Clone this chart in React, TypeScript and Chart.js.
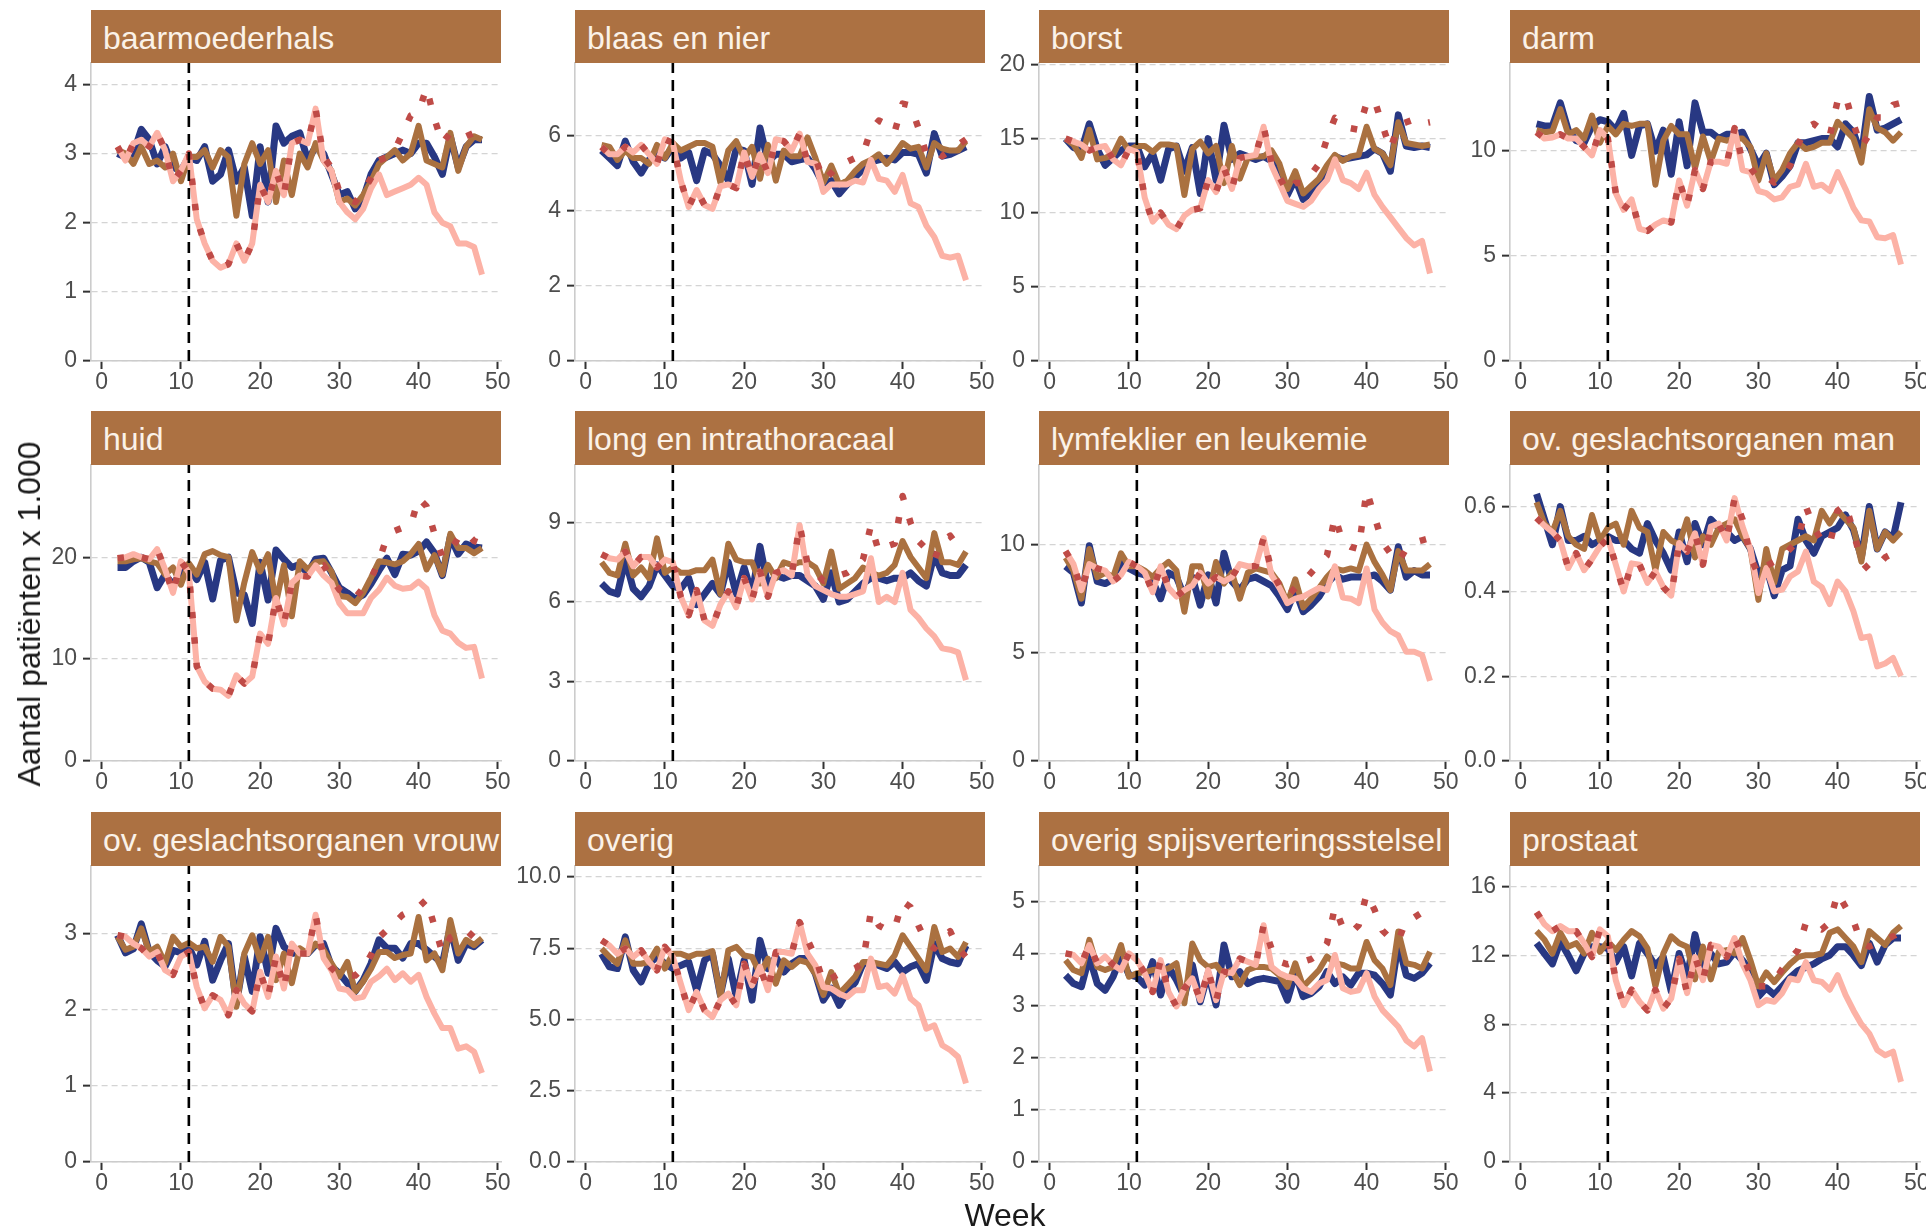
import React, { useEffect, useRef } from "react";
import { Chart, registerables } from "chart.js";

Chart.register(...registerables);
Chart.defaults.font.family = '"Liberation Sans", Arial, Helvetica, sans-serif';

// ---------- categories ----------
const WEEKS = [2,3,4,5,6,7,8,9,10,11,12,13,14,15,16,17,18,19,20,21,22,23,24,25,26,27,28,29,30,31,32,33,34,35,36,37,38,39,40,41,42,43,44,45,46,47,48];
const VLINE_WEEK = 11;
const X_TICKS = [0, 10, 20, 30, 40, 50];

const TITLES = [
  "baarmoederhals", "blaas en nier", "borst", "darm",
  "huid", "long en intrathoracaal", "lymfeklier en leukemie", "ov. geslachtsorganen man",
  "ov. geslachtsorganen vrouw", "overig", "overig spijsverteringsstelsel", "prostaat",
];

// y-axis tick labels per panel
const Y_TICKS = [
  [0, 1, 2, 3, 4], [0, 2, 4, 6], [0, 5, 10, 15, 20], [0, 5, 10],
  [0, 10, 20], [0, 3, 6, 9], [0, 5, 10], [0, 0.2, 0.4, 0.6],
  [0, 1, 2, 3], [0, 2.5, 5, 7.5, 10], [0, 1, 2, 3, 4, 5], [0, 4, 8, 12, 16],
];
const Y_DECIMALS = [0, 0, 0, 0, 0, 0, 0, 1, 0, 1, 0, 0];
const Y_MAX = [4.31, 7.93, 20.1, 14.2, 29.05, 11.17, 13.68, 0.698, 3.89, 10.39, 5.69, 17.18];

// ---------- series (a = donkerblauw, b = bruin, c = roze, d = gestippeld) ----------
const baarmoederhals_a = [3.0,2.95,3.0,3.35,3.2,2.85,3.1,2.8,2.75,2.95,2.9,3.1,2.6,2.7,3.05,2.6,2.8,2.1,3.1,2.3,3.4,3.15,3.25,3.3,2.9,3.1,3.0,2.7,2.4,2.45,2.2,2.35,2.7,2.9,2.95,3.0,3.05,3.0,3.15,3.15,2.95,2.7,3.25,2.8,3.1,3.2,3.2];
const baarmoederhals_b = [3.05,3.0,2.85,3.1,2.85,2.9,2.8,3.0,2.6,2.95,2.95,3.05,2.8,3.05,2.95,2.1,2.85,3.15,2.85,3.05,2.3,2.9,2.4,3.0,2.8,3.15,2.9,2.75,2.3,2.35,2.25,2.4,2.6,2.85,2.95,3.05,2.9,3.0,3.4,2.9,2.85,2.8,3.3,2.75,3.1,3.25,3.2];
const baarmoederhals_c = [3.1,2.9,3.15,3.2,3.1,3.3,3.05,2.6,2.75,3.0,2.05,1.7,1.45,1.35,1.4,1.7,1.45,1.7,2.55,2.3,2.75,2.4,3.15,3.2,3.15,3.65,2.9,2.75,2.3,2.15,2.05,2.2,2.5,2.7,2.4,2.45,2.5,2.55,2.65,2.55,2.15,2.0,1.95,1.7,1.7,1.65,1.25];
const baarmoederhals_d = [3.1,2.9,3.15,3.2,3.1,3.3,3.05,2.6,2.75,3.0,2.05,1.7,1.45,1.35,1.4,1.7,1.45,1.7,2.55,2.3,2.75,2.4,3.15,3.2,3.15,3.65,2.95,2.8,2.45,2.35,2.3,2.45,2.65,2.9,2.95,3.05,3.3,3.55,3.6,3.95,3.5,3.15,3.3,3.3,3.25,3.3,3.4];

const blaas_a = [5.6,5.4,5.2,5.85,5.3,5.0,5.35,5.5,5.4,5.7,5.4,5.55,4.8,5.6,5.5,5.2,4.8,5.65,5.6,4.7,6.2,5.3,5.5,5.5,5.3,5.35,5.4,5.1,4.7,4.8,4.45,4.7,4.9,5.1,5.3,5.35,5.4,5.35,5.55,5.55,5.5,5.0,6.05,5.45,5.5,5.6,5.7];
const blaas_b = [5.75,5.7,5.35,5.6,5.4,5.4,5.25,5.75,5.4,5.8,5.6,5.7,5.8,5.8,5.7,4.75,5.6,5.85,5.4,5.7,4.85,5.75,4.8,5.6,5.45,5.45,5.95,5.4,4.75,5.2,4.7,4.8,5.05,5.25,5.35,5.5,5.25,5.5,5.8,5.65,5.7,5.15,5.8,5.65,5.6,5.6,5.85];
const blaas_c = [5.7,5.5,5.5,5.7,5.55,5.75,5.5,5.25,5.9,5.8,4.8,4.1,4.55,4.15,4.05,4.65,4.7,4.6,5.55,4.9,5.5,5.0,5.9,5.85,5.6,6.05,5.3,5.25,4.5,4.7,4.7,4.7,4.8,4.75,5.35,4.85,4.8,4.5,4.95,4.2,4.1,3.6,3.3,2.8,2.75,2.8,2.15];
const blaas_d = [5.7,5.5,5.5,5.7,5.55,5.75,5.5,5.25,5.9,5.8,4.8,4.1,4.55,4.15,4.05,4.65,4.7,4.6,5.55,4.9,5.5,5.0,5.9,5.85,5.6,6.05,5.3,5.4,4.8,5.0,5.25,5.3,5.4,5.5,6.15,6.4,6.3,6.1,6.85,6.8,6.2,5.5,5.6,5.45,5.6,5.75,5.9];

const borst_a = [15.0,14.4,14.2,16.0,14.3,13.2,13.7,14.2,14.5,14.5,13.1,14.0,12.2,14.3,14.5,12.8,14.4,11.3,15.0,12.2,15.9,13.6,14.0,13.8,13.6,13.8,13.5,12.3,11.2,12.3,10.9,11.4,12.0,12.5,13.8,13.6,13.7,13.8,13.9,14.3,14.0,12.8,16.6,14.5,14.4,14.5,14.4];
const borst_b = [15.0,14.6,13.7,15.6,13.6,13.7,13.9,15.0,14.2,14.5,14.5,14.1,14.6,14.6,14.5,11.2,14.3,14.8,14.0,14.5,12.0,14.5,12.3,13.7,13.8,13.8,14.2,13.3,11.6,12.8,11.3,11.8,12.3,13.2,13.9,13.5,13.8,13.9,15.8,14.3,14.0,13.2,16.1,14.7,14.6,14.5,14.6];
const borst_c = [15.0,14.8,14.6,14.2,14.4,14.5,13.6,13.2,14.3,14.1,11.0,9.4,10.0,9.2,8.9,9.8,10.2,10.3,12.2,11.4,13.0,11.6,13.7,13.8,13.9,15.8,13.2,12.0,10.8,10.6,10.4,10.8,11.6,12.2,13.6,12.2,12.0,11.6,12.7,11.2,10.4,9.7,9.0,8.3,7.8,8.1,5.9];
const borst_d = [15.0,14.8,14.6,14.2,14.4,14.5,13.6,13.2,14.3,14.1,11.0,9.4,10.0,9.2,8.9,9.8,10.2,10.3,12.2,11.4,13.0,11.6,13.7,13.8,13.9,15.8,13.4,12.4,11.4,12.0,12.0,12.6,13.3,15.0,16.4,16.0,15.7,15.6,17.4,17.6,15.9,14.3,15.9,16.1,16.3,16.0,16.1];

const darm_a = [11.3,11.2,11.2,12.3,11.0,10.5,10.4,11.2,11.5,11.4,11.0,11.8,9.8,11.2,11.3,10.0,11.0,8.9,11.4,9.3,12.3,10.9,10.9,10.6,10.8,10.8,10.9,10.1,9.3,9.9,8.4,8.8,9.3,10.4,10.4,10.5,10.6,10.6,10.2,11.3,10.9,9.8,12.6,11.0,11.1,11.3,11.5];
const darm_b = [11.0,10.9,10.95,12.0,10.8,11.0,10.6,11.7,10.4,11.2,10.8,11.3,11.2,11.3,11.3,8.4,10.5,11.2,10.8,10.8,9.2,10.7,9.5,10.6,10.5,10.6,10.6,10.2,8.6,9.9,8.6,9.1,9.9,10.4,10.1,10.2,10.4,10.4,11.4,11.0,10.6,9.45,12.0,11.1,10.9,10.5,10.9];
const darm_c = [10.9,10.6,10.65,10.8,10.6,10.6,10.2,9.8,11.0,10.6,8.0,7.2,7.7,6.3,6.2,6.5,6.7,6.6,8.6,7.4,9.1,8.2,9.5,9.5,9.4,11.1,9.1,9.0,8.1,8.0,7.7,7.8,8.3,8.4,9.4,8.3,8.4,8.1,9.0,8.2,7.3,6.7,6.65,5.9,5.85,6.0,4.6];
const darm_d = [10.9,10.6,10.65,10.8,10.6,10.6,10.2,9.8,11.0,10.6,8.0,7.2,7.7,6.3,6.2,6.5,6.7,6.6,8.6,7.4,9.1,8.2,9.5,9.5,9.4,11.1,9.5,9.2,8.7,8.8,8.5,8.7,9.3,10.3,11.1,11.3,11.0,10.7,12.4,12.65,11.3,10.2,10.8,11.6,11.6,12.2,12.3];

const huid_a = [19.0,19.0,19.6,20.0,19.5,17.0,18.3,17.3,18.5,19.0,17.8,19.5,15.9,19.7,20.0,16.5,16.3,13.5,19.5,15.8,20.7,19.8,19.0,19.3,18.4,19.8,19.9,18.5,17.0,16.5,15.9,16.3,17.4,18.7,19.9,18.3,20.3,20.2,20.6,21.5,20.4,18.2,22.0,20.3,21.3,21.0,20.9];
const huid_b = [19.6,19.6,19.8,19.9,19.6,19.4,18.3,19.0,17.3,19.4,18.3,20.3,20.6,20.2,20.0,13.8,17.5,20.5,18.6,20.3,15.5,19.2,14.2,19.6,18.8,19.5,19.6,18.6,16.2,16.1,15.5,16.5,18.0,19.6,19.5,19.3,19.6,20.3,21.3,18.8,20.2,18.3,22.3,20.9,20.9,20.4,20.9];
const huid_c = [19.9,20.0,20.3,20.0,19.8,20.8,18.8,16.5,19.6,18.5,9.3,7.8,7.1,7.0,6.4,8.4,7.6,8.3,12.5,11.5,16.0,13.4,17.5,18.2,18.1,19.2,18.2,17.5,15.5,14.5,14.5,14.5,16.0,16.8,18.0,17.2,16.9,17.0,17.6,16.9,14.3,12.8,12.5,11.6,11.1,11.2,8.1];
const huid_d = [19.9,20.0,20.3,20.0,19.8,20.8,18.8,16.5,19.6,18.5,9.3,7.8,7.1,7.0,6.4,8.4,7.6,8.3,12.5,11.5,16.0,13.4,17.5,18.2,18.1,19.2,19.2,18.0,16.8,16.4,16.0,17.0,17.9,19.6,22.0,22.6,22.9,23.1,25.8,25.0,22.3,20.0,20.6,21.9,22.4,21.6,21.3];

const long_a = [6.7,6.4,6.3,7.6,6.5,6.2,6.6,7.4,7.0,6.6,6.5,6.9,5.9,6.3,6.7,6.3,7.5,6.3,7.3,6.3,8.1,6.6,7.0,6.9,7.0,7.0,6.8,6.6,6.1,7.1,6.0,6.1,6.4,6.7,6.9,6.9,6.8,6.9,6.9,7.1,6.8,6.6,7.8,7.1,7.0,7.0,7.4];
const long_b = [7.5,7.1,7.0,8.2,7.0,7.3,6.9,8.4,7.1,7.3,7.1,7.1,7.2,7.2,7.6,6.3,8.2,7.6,7.5,7.5,6.7,7.4,6.9,7.5,7.4,7.5,7.5,7.3,6.7,7.9,6.5,6.7,6.9,7.3,7.1,7.0,7.1,7.4,8.3,7.7,7.3,6.9,8.6,7.5,7.5,7.4,7.9];
const long_c = [7.8,7.65,7.6,7.9,7.35,7.7,7.7,7.3,7.6,7.5,6.2,5.5,6.45,5.3,5.1,5.9,6.4,5.8,6.9,6.1,7.15,6.2,7.1,7.2,7.0,8.9,7.0,6.6,6.45,6.3,6.2,6.2,6.3,6.4,7.65,6.0,6.2,6.0,7.1,5.7,5.4,5.0,4.7,4.25,4.2,4.1,3.05];
const long_d = [7.8,7.65,7.6,7.9,7.35,7.7,7.7,7.3,7.6,7.5,6.2,5.5,6.45,5.3,5.1,5.9,6.4,5.8,6.9,6.1,7.15,6.2,7.1,7.2,7.0,8.9,7.45,7.1,6.8,6.9,7.0,7.1,7.3,7.6,8.9,7.9,8.1,8.2,10.0,9.0,8.3,8.0,7.6,8.3,8.5,8.1,8.0];

const lymf_a = [9.0,8.7,7.3,9.95,8.3,8.2,8.4,9.2,8.9,8.7,8.6,8.3,7.5,8.7,8.5,7.6,8.5,7.2,8.6,7.3,9.6,8.3,7.9,8.4,8.5,8.3,8.1,7.6,7.0,7.9,6.9,7.2,7.6,8.2,8.6,8.4,8.5,8.5,8.5,8.6,8.3,7.9,9.9,8.5,8.8,8.6,8.6];
const lymf_b = [9.4,8.8,7.5,9.8,8.5,8.7,8.5,9.6,9.0,9.0,8.8,8.5,8.9,9.2,8.8,6.9,9.0,9.0,7.6,9.2,8.2,8.7,7.5,8.7,8.9,8.8,8.7,8.2,7.3,8.4,7.1,7.5,8.0,8.5,8.9,8.8,8.9,8.8,10.0,9.2,8.6,7.9,9.7,8.8,8.8,8.8,9.1];
const lymf_c = [9.7,9.1,7.9,9.1,8.9,8.8,8.3,8.6,9.2,9.0,8.7,7.8,9.0,8.0,7.6,7.9,8.1,8.7,8.2,8.5,8.3,8.5,9.1,9.0,9.0,10.3,8.6,8.0,7.3,7.5,7.6,7.8,8.0,7.9,9.0,7.55,7.5,7.3,8.9,7.0,6.4,6.0,5.8,5.05,5.05,4.9,3.7];
const lymf_d = [9.7,9.1,7.9,9.1,8.9,8.8,8.3,8.6,9.2,9.0,8.7,7.8,9.0,8.0,7.6,7.9,8.1,8.7,8.2,8.5,8.3,8.5,9.1,9.0,9.0,10.3,8.8,8.1,7.6,8.0,8.3,8.7,9.1,9.5,11.3,10.1,9.9,9.8,12.5,11.3,10.1,9.6,9.2,9.8,10.1,10.2,10.3];

const man_a = [0.63,0.57,0.51,0.60,0.52,0.52,0.53,0.51,0.52,0.53,0.52,0.52,0.50,0.49,0.56,0.52,0.49,0.45,0.54,0.47,0.56,0.51,0.57,0.55,0.54,0.52,0.53,0.50,0.44,0.46,0.39,0.45,0.46,0.57,0.52,0.49,0.53,0.54,0.55,0.58,0.545,0.48,0.60,0.50,0.54,0.525,0.61];
const man_b = [0.61,0.56,0.54,0.59,0.53,0.51,0.50,0.58,0.52,0.55,0.56,0.51,0.59,0.55,0.54,0.45,0.54,0.52,0.51,0.57,0.48,0.53,0.51,0.55,0.56,0.57,0.53,0.50,0.38,0.50,0.42,0.50,0.51,0.52,0.53,0.52,0.59,0.56,0.59,0.57,0.55,0.47,0.59,0.50,0.54,0.52,0.54];
const man_c = [0.573,0.555,0.54,0.52,0.455,0.49,0.45,0.476,0.506,0.525,0.463,0.40,0.466,0.463,0.42,0.447,0.41,0.39,0.514,0.494,0.537,0.463,0.553,0.56,0.52,0.62,0.553,0.50,0.396,0.455,0.40,0.404,0.435,0.447,0.494,0.423,0.41,0.37,0.423,0.40,0.353,0.29,0.294,0.223,0.23,0.243,0.20];
const man_d = [0.573,0.555,0.54,0.52,0.455,0.49,0.45,0.476,0.506,0.525,0.463,0.40,0.466,0.463,0.42,0.447,0.41,0.39,0.514,0.494,0.537,0.463,0.553,0.56,0.52,0.62,0.57,0.48,0.44,0.46,0.47,0.48,0.50,0.52,0.60,0.55,0.52,0.51,0.59,0.605,0.54,0.47,0.45,0.46,0.48,0.49,0.48];

const vrouw_a = [2.98,2.75,2.8,3.13,2.76,2.65,2.57,2.78,2.75,2.83,2.59,2.9,2.39,2.65,2.87,2.08,2.7,2.24,2.96,2.48,3.07,2.83,2.74,2.76,2.74,2.85,2.87,2.57,2.48,2.35,2.24,2.39,2.61,2.92,2.81,2.81,2.68,2.87,2.87,2.79,2.7,2.61,3.09,2.65,2.87,2.83,2.92];
const vrouw_b = [2.96,2.79,2.83,3.07,2.76,2.83,2.61,2.96,2.83,2.88,2.81,2.83,2.63,2.96,2.83,2.04,2.74,2.98,2.65,2.96,2.39,2.74,2.35,2.81,2.74,2.87,2.79,2.61,2.44,2.63,2.24,2.37,2.54,2.76,2.76,2.68,2.72,2.74,3.22,2.65,2.74,2.52,3.18,2.74,2.92,2.85,2.94];
const vrouw_c = [2.98,2.96,2.87,2.81,2.7,2.76,2.52,2.46,2.7,2.76,2.3,2.02,2.19,2.13,1.93,2.26,2.08,1.98,2.5,2.17,2.7,2.28,2.87,2.74,2.74,3.25,2.68,2.52,2.28,2.26,2.15,2.17,2.37,2.44,2.54,2.39,2.48,2.37,2.46,2.17,1.95,1.76,1.76,1.49,1.52,1.45,1.17];
const vrouw_d = [2.98,2.96,2.87,2.81,2.7,2.76,2.52,2.46,2.7,2.76,2.3,2.02,2.19,2.13,1.93,2.26,2.08,1.98,2.5,2.17,2.7,2.28,2.87,2.74,2.74,3.25,2.68,2.55,2.45,2.45,2.45,2.55,2.72,2.95,3.05,3.15,3.25,3.3,3.35,3.45,3.1,2.75,2.95,3.0,3.05,2.95,3.05];

const overig_a = [7.31,6.85,6.79,7.9,6.73,6.32,6.96,7.2,6.96,6.79,6.9,7.02,6.03,7.08,7.3,5.86,7.14,5.8,7.08,5.68,7.78,6.79,7.2,6.67,6.96,7.14,7.14,6.6,5.68,6.1,5.5,5.97,6.3,6.96,6.96,6.9,6.79,7.02,6.67,6.85,6.96,6.38,7.66,7.14,7.02,6.96,7.6];
const overig_b = [7.49,7.2,6.96,7.78,6.96,6.96,7.02,7.49,6.79,7.31,7.31,7.2,7.31,7.31,7.4,5.8,7.43,7.55,7.25,7.2,6.6,7.14,6.26,7.08,6.85,7.08,7.0,6.6,5.86,6.67,5.91,6.2,6.5,7.02,7.02,6.96,6.9,7.25,7.96,7.55,7.14,6.73,8.25,7.37,7.49,7.2,7.72];
const overig_c = [7.78,7.6,7.31,7.49,7.2,7.43,7.02,6.73,7.55,7.2,6.26,5.33,5.97,5.33,5.09,5.68,5.91,5.5,6.96,6.2,6.85,6.03,7.37,7.37,7.31,8.42,7.31,6.9,6.14,6.09,5.91,5.79,6.03,6.03,7.14,6.14,6.2,5.91,6.55,5.74,5.5,4.68,4.8,4.1,3.93,3.69,2.76];
const overig_d = [7.78,7.6,7.31,7.49,7.2,7.43,7.02,6.73,7.55,7.2,6.26,5.33,5.97,5.33,5.09,5.68,5.91,5.5,6.96,6.2,6.85,6.03,7.37,7.37,7.31,8.42,7.8,7.2,6.3,6.45,6.6,6.7,6.8,7.0,8.8,8.3,8.15,8.2,9.15,8.95,8.3,7.7,7.5,7.9,8.1,7.5,7.2];

const spijs_a = [3.59,3.43,3.37,3.95,3.43,3.3,3.56,3.95,3.6,3.56,3.4,3.85,3.21,3.75,3.5,3.18,3.79,3.08,3.63,3.02,4.17,3.56,3.66,3.43,3.5,3.53,3.5,3.47,3.11,3.63,3.18,3.24,3.37,3.66,3.43,3.56,3.4,3.63,3.63,3.59,3.43,3.21,4.2,3.59,3.53,3.63,3.82];
const spijs_b = [3.88,3.69,3.63,4.27,3.75,3.69,3.75,4.17,3.56,3.63,3.65,3.69,3.7,3.72,3.82,3.05,4.2,3.88,3.75,3.79,3.59,3.69,3.4,3.69,3.75,3.75,3.72,3.59,3.37,3.82,3.37,3.53,3.69,3.95,3.82,3.79,3.72,3.72,4.23,3.88,3.72,3.4,4.43,3.82,3.79,3.72,4.04];
const spijs_c = [4.01,3.98,3.82,4.17,3.82,3.95,3.79,3.69,4.01,3.88,3.63,3.27,3.88,3.27,2.99,3.34,3.53,3.11,3.69,3.11,3.66,3.63,3.91,3.85,3.79,4.55,3.75,3.63,3.56,3.53,3.34,3.27,3.43,3.5,3.98,3.34,3.27,3.3,3.63,3.18,2.92,2.76,2.6,2.34,2.22,2.38,1.74];
const spijs_d = [4.01,3.98,3.82,4.17,3.82,3.95,3.79,3.69,4.01,3.88,3.63,3.27,3.88,3.27,2.99,3.34,3.53,3.11,3.69,3.11,3.66,3.63,3.91,3.85,3.79,4.55,4.1,3.85,3.8,3.85,3.85,3.9,4.0,4.2,4.9,4.5,4.4,4.55,5.15,4.85,4.45,4.3,4.25,4.65,4.7,4.8,4.9];

const prostaat_a = [12.7,12.1,11.5,12.8,12.0,11.1,12.1,12.5,12.5,12.4,11.6,12.5,10.8,12.7,12.1,11.4,11.9,9.9,12.1,10.7,13.2,11.3,12.1,11.5,11.6,12.2,11.7,11.1,9.6,10.1,9.7,10.2,10.7,11.1,11.3,11.5,11.8,12.0,12.5,12.5,12.0,11.4,12.7,11.6,12.6,13.0,13.0];
const prostaat_b = [13.4,12.9,12.1,13.3,12.5,12.7,12.1,13.3,12.2,12.8,12.3,12.9,13.4,13.1,12.4,10.2,12.1,13.1,12.7,12.5,10.6,12.5,10.6,12.2,12.3,12.1,13.0,11.7,10.2,11.0,10.45,11.0,11.5,11.9,12.0,12.0,12.1,13.3,13.5,13.0,12.5,11.6,13.4,13.0,12.6,13.3,13.7];
const prostaat_c = [14.5,13.8,13.4,13.7,13.4,13.4,12.7,11.9,13.5,13.1,10.55,9.1,10.0,9.3,8.8,10.0,8.9,9.5,11.8,9.8,11.9,10.55,12.6,12.5,11.9,13.0,11.5,10.55,9.1,9.4,9.3,9.8,10.65,10.55,11.6,10.55,10.45,10.0,10.85,9.7,8.8,8.0,7.45,6.5,6.2,6.4,4.65];
const prostaat_d = [14.5,13.8,13.4,13.7,13.4,13.4,12.7,11.9,13.5,13.1,10.55,9.1,10.0,9.3,8.8,10.0,8.9,9.5,11.8,9.8,11.9,10.55,12.6,12.5,11.9,13.0,12.0,10.9,10.2,10.2,10.5,11.2,11.8,12.3,13.9,13.7,13.5,13.9,15.6,14.8,14.0,12.7,12.5,12.7,12.9,13.1,12.1];

const SERIES = [
  [baarmoederhals_a, baarmoederhals_b, baarmoederhals_c, baarmoederhals_d],
  [blaas_a, blaas_b, blaas_c, blaas_d],
  [borst_a, borst_b, borst_c, borst_d],
  [darm_a, darm_b, darm_c, darm_d],
  [huid_a, huid_b, huid_c, huid_d],
  [long_a, long_b, long_c, long_d],
  [lymf_a, lymf_b, lymf_c, lymf_d],
  [man_a, man_b, man_c, man_d],
  [vrouw_a, vrouw_b, vrouw_c, vrouw_d],
  [overig_a, overig_b, overig_c, overig_d],
  [spijs_a, spijs_b, spijs_c, spijs_d],
  [prostaat_a, prostaat_b, prostaat_c, prostaat_d],
];

// ---------- styling / layout ----------
const NAVY = "#283883";
const BROWN = "#aa7140";
const PINK = "#fcb2a6";
const DOTRED = "#bf4b47";
const STRIP_BG = "#ac7142";
const STRIP_FG = "#fbf2e8";
const TICK_TEXT = "#4d4d4d";

const COL_LEFT = [91, 575, 1039, 1510];
const PLOT_W = 410;
const ROW_STRIP_TOP = [10, 411, 812];
const ROW_PLOT_TOP = [63, 465, 866];
const ROW_PLOT_BOTTOM = [361, 761, 1162];
const YAXIS_W = 70;
const XAXIS_H = 44;
const RIGHT_PAD = 24;
const FONT = '"Liberation Sans", Arial, Helvetica, sans-serif';
const STRIP_FONT = 32;
const TITLE_FONT = 32;

function toPoints(values: number[]) {
  return WEEKS.map((w, i) => ({ x: w, y: values[i] }));
}

function Panel({ idx }: { idx: number }) {
  const ref = useRef<HTMLCanvasElement | null>(null);
  const col = idx % 4;
  const row = Math.floor(idx / 4);
  const left = COL_LEFT[col] - YAXIS_W;
  const top = ROW_STRIP_TOP[row];
  const padTop = ROW_PLOT_TOP[row] - top;
  const height = ROW_PLOT_BOTTOM[row] - top + XAXIS_H;
  const width = YAXIS_W + PLOT_W + RIGHT_PAD;

  useEffect(() => {
    if (!ref.current) return;
    const [a, b, c, d] = SERIES[idx];
    const yMax = Y_MAX[idx];
    const dec = Y_DECIMALS[idx];
    const yTicks = Y_TICKS[idx];
    const chart = new Chart(ref.current, {
      type: "line",
      data: {
        datasets: [
          { data: [{ x: VLINE_WEEK, y: 0 }, { x: VLINE_WEEK, y: yMax }], borderColor: "#000000", borderWidth: 2.6, borderDash: [11, 7], order: 0 },
          { data: toPoints(d), borderColor: DOTRED, borderWidth: 6.5, borderDash: [6.5, 19], order: 1 },
          { data: toPoints(c), borderColor: PINK, borderWidth: 6, order: 2 },
          { data: toPoints(b), borderColor: BROWN, borderWidth: 6, order: 3 },
          { data: toPoints(a), borderColor: NAVY, borderWidth: 7, order: 4 },
        ],
      },
      options: {
        animation: false,
        responsive: false,
        maintainAspectRatio: false,
        devicePixelRatio: 1,
        events: [],
        parsing: false as any,
        plugins: { legend: { display: false }, tooltip: { enabled: false }, title: { display: false } },
        elements: {
          point: { radius: 0, hoverRadius: 0 },
          line: { tension: 0, borderJoinStyle: "round", borderCapStyle: "butt", fill: false },
        },
        layout: { padding: { top: padTop, right: RIGHT_PAD, left: 0, bottom: 0 } },
        scales: {
          x: {
            type: "linear",
            min: -1.35,
            max: 50.4,
            afterBuildTicks: (s: any) => { s.ticks = X_TICKS.map((v) => ({ value: v })); },
            afterFit: (s: any) => { s.height = XAXIS_H; s.paddingLeft = 0; s.paddingRight = 0; },
            ticks: { color: TICK_TEXT, font: { family: FONT, size: 23 }, padding: 0, maxRotation: 0, minRotation: 0, autoSkip: false },
            grid: { drawOnChartArea: false, drawTicks: true, tickLength: 8, tickColor: "#333333", tickWidth: 2, tickBorderDash: [] },
            border: { display: true, color: "#cccccc", width: 1.6 },
          },
          y: {
            type: "linear",
            min: 0,
            max: yMax,
            afterBuildTicks: (s: any) => { s.ticks = yTicks.map((v) => ({ value: v })); },
            afterFit: (s: any) => { s.width = YAXIS_W; s.paddingTop = 0; s.paddingBottom = 0; },
            ticks: { color: TICK_TEXT, font: { family: FONT, size: 23 }, padding: 6, callback: (v: any) => Number(v).toFixed(dec) },
            grid: { drawOnChartArea: true, color: "#d4d4d4", lineWidth: 1.3, drawTicks: true, tickLength: 8, tickColor: "#333333", tickWidth: 2, tickBorderDash: [] },
            border: { display: true, color: "#cccccc", width: 1.6, dash: [6, 4] },
          },
        },
      } as any,
    });
    return () => chart.destroy();
  }, [idx]);

  return (
    <>
      <canvas ref={ref} width={width} height={height} style={{ position: "absolute", left, top, width, height, display: "block" }} />
      <div
        style={{
          position: "absolute",
          left: COL_LEFT[col],
          top,
          width: PLOT_W,
          height: padTop,
          background: STRIP_BG,
          overflow: "hidden",
        }}
      >
        <div
          style={{
            position: "absolute",
            left: 12,
            top: 39 - 27.1,
            fontFamily: FONT,
            fontSize: STRIP_FONT,
            lineHeight: 1,
            color: STRIP_FG,
            whiteSpace: "nowrap",
          }}
        >
          {TITLES[idx]}
        </div>
      </div>
    </>
  );
}

export default function App() {
  useEffect(() => {
    document.body.style.margin = "0";
  }, []);
  return (
    <div style={{ position: "fixed", left: 0, top: 0, width: 1926, height: 1231, overflow: "hidden", background: "#ffffff" }}>
      {TITLES.map((_, i) => (
        <Panel key={i} idx={i} />
      ))}
      <div
        style={{
          position: "absolute",
          left: 28.5,
          top: 614,
          transform: "translate(-50%, -50%) rotate(-90deg)",
          fontFamily: FONT,
          fontSize: TITLE_FONT,
          lineHeight: 1,
          whiteSpace: "nowrap",
          color: "#1a1a1a",
        }}
      >
        Aantal patiënten x 1.000
      </div>
      <div
        style={{
          position: "absolute",
          left: 1005,
          top: 1215,
          transform: "translate(-50%, -50%)",
          fontFamily: FONT,
          fontSize: TITLE_FONT,
          lineHeight: 1,
          whiteSpace: "nowrap",
          color: "#1a1a1a",
        }}
      >
        Week
      </div>
    </div>
  );
}
